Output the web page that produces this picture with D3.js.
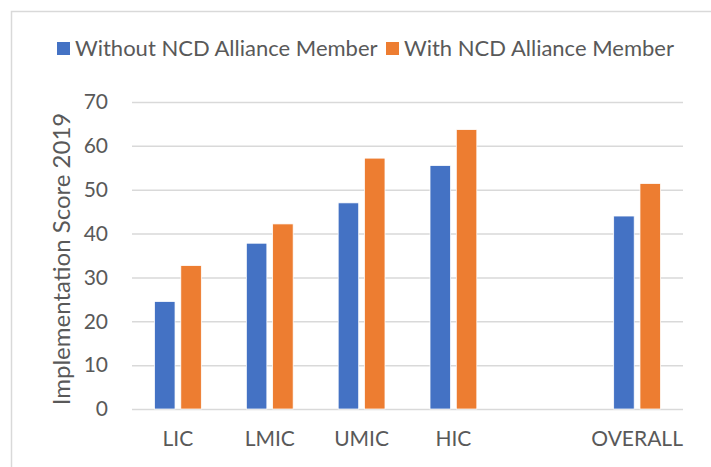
<!DOCTYPE html>
<html>
<head>
<meta charset="utf-8">
<script src="https://cdn.jsdelivr.net/npm/d3@7"></script>
<style>
  body { margin: 0; background: #fff; }
  svg text { font-family: Lato, "Open Sans", sans-serif; fill: #595959; }
</style>
</head>
<body>
<svg id="chart" width="711" height="467"></svg>
<script>
const categories = ['LIC', 'LMIC', 'UMIC', 'HIC', '', 'OVERALL'];
const seriesNames = ['Without NCD Alliance Member', 'With NCD Alliance Member'];
const withoutMember = [24.5, 37.8, 47.0, 55.5, null, 44.0];
const withMember = [32.7, 42.2, 57.2, 63.7, null, 51.4];
const yTicks = [0, 10, 20, 30, 40, 50, 60, 70];
const colors = ['#4472c4', '#ed7d31'];

const svg = d3.select('#chart'),
  margin = {top: 102, right: 28, bottom: 58, left: 132},
  width = +svg.attr('width') - margin.left - margin.right,
  height = +svg.attr('height') - margin.top - margin.bottom;

// chart area border (runs off the right and bottom edges)
svg.append('rect')
  .attr('x', 11.5).attr('y', 11.5)
  .attr('width', 720).attr('height', 480)
  .attr('fill', 'none').attr('stroke', '#d9d9d9').attr('stroke-width', 1.5);

const x0 = d3.scaleBand().domain(d3.range(categories.length)).range([0, width]).padding(0);
const half = 23.4;
const x1 = d3.scaleBand().domain([0, 1])
  .range([x0.bandwidth() / 2 - half, x0.bandwidth() / 2 + half]).paddingInner(0.22);
const y = d3.scaleLinear().domain([0, 70]).range([height, 0]);

const g = svg.append('g')
  .attr('transform', 'translate(' + margin.left + ',' + margin.top + ')');

// gridlines
g.append('g')
  .attr('class', 'grid')
  .call(d3.axisLeft(y).tickValues(yTicks).tickSize(-width).tickFormat(''))
  .call(s => s.select('.domain').remove())
  .selectAll('line')
    .attr('stroke', '#d9d9d9').attr('stroke-width', 1.5);

// y tick labels
g.append('g')
  .call(d3.axisLeft(y).tickValues(yTicks).tickSize(0).tickPadding(24))
  .call(s => s.select('.domain').remove())
  .selectAll('text')
    .style('font-size', '21px')
    .attr('fill', '#595959');

// x labels
g.append('g')
  .attr('transform', 'translate(0,' + height + ')')
  .call(d3.axisBottom(x0).tickSize(0).tickPadding(22).tickFormat(i => categories[i]))
  .call(s => s.select('.domain').remove())
  .selectAll('text')
    .style('font-size', '21px')
    .attr('fill', '#595959');

// bars
const rows = categories.map((c, i) => ({i: i, vals: [withoutMember[i], withMember[i]]}))
  .filter(d => d.vals[0] != null);

g.selectAll('.group')
  .data(rows)
  .enter().append('g')
    .attr('class', 'group')
    .attr('transform', d => 'translate(' + x0(d.i) + ',0)')
  .selectAll('rect')
  .data(d => d.vals.map((v, k) => ({k: k, v: v})))
  .enter().append('rect')
    .attr('x', d => x1(d.k))
    .attr('y', d => y(d.v))
    .attr('width', x1.bandwidth())
    .attr('height', d => height - y(d.v))
    .attr('fill', d => colors[d.k])
    .attr('stroke', '#fff').attr('stroke-width', 0.75);

// y axis title
svg.append('text')
  .attr('transform', 'translate(70,259) rotate(-90)')
  .attr('text-anchor', 'middle')
  .style('font-size', '24px')
  .text('Implementation Score 2019');

// legend
const legendX = [57, 386];
const legend = svg.append('g');
seriesNames.forEach((name, k) => {
  legend.append('rect')
    .attr('x', legendX[k]).attr('y', 42)
    .attr('width', 13).attr('height', 13)
    .attr('fill', colors[k]);
  legend.append('text')
    .attr('x', legendX[k] + 18).attr('y', 56)
    .style('font-size', '22px')
    .text(name);
});
</script>
</body>
</html>
